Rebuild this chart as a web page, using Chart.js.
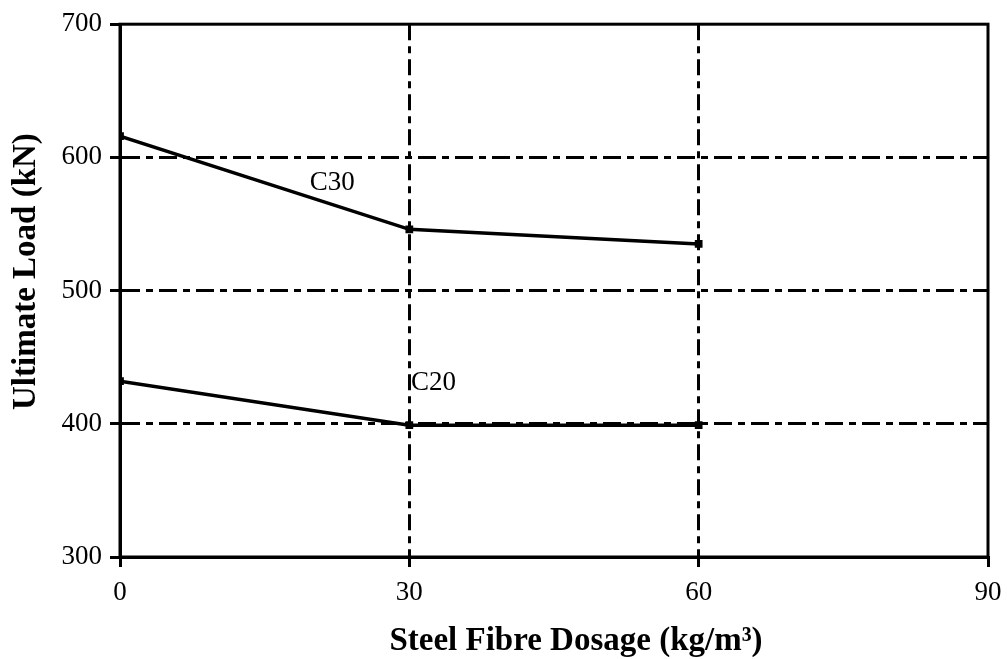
<!DOCTYPE html>
<html>
<head>
<meta charset="utf-8">
<title>Ultimate Load vs Steel Fibre Dosage</title>
<script src="https://cdn.jsdelivr.net/npm/chart.js@4/dist/chart.umd.min.js"></script>
<style>
  html, body { margin: 0; padding: 0; background: #ffffff; }
  #wrap { width: 1007px; height: 659px; }
</style>
</head>
<body>
<div id="wrap"><canvas id="chart" width="1007" height="659"></canvas></div>
<script>
// Fibre dosage (kg/m³) and the ultimate load (kN) for each concrete grade
const dosages = [0, 30, 60];
const loadC30 = [616, 546, 535];
const loadC20 = [432, 399, 399];
const seriesNames = ['C30', 'C20'];
const xTicks = [0, 30, 60, 90];
const yTicks = [300, 400, 500, 600, 700];

const SERIF = '"Liberation Serif", "Times New Roman", serif';

// Series name tags, anchored in data units next to each curve
const seriesTags = [
  { text: seriesNames[0], x: 22, y: 581 },
  { text: seriesNames[1], x: 32.5, y: 431 }
];

const pairs = (xs, ys) => xs.map((x, i) => ({ x, y: ys[i] }));

const frameAndText = {
  id: 'frameAndText',
  afterDatasetsDraw(chart) {
    const { ctx, chartArea: a, scales } = chart;
    ctx.save();
    // solid frame around the plotting area
    ctx.strokeStyle = '#000';
    ctx.lineWidth = 3;
    ctx.setLineDash([]);
    ctx.strokeRect(a.left, a.top, a.right - a.left, a.bottom - a.top);

    // curve tags
    ctx.fillStyle = '#000';
    ctx.font = '27px ' + SERIF;
    ctx.textAlign = 'center';
    ctx.textBaseline = 'middle';
    seriesTags.forEach(t => {
      ctx.fillText(t.text, scales.x.getPixelForValue(t.x), scales.y.getPixelForValue(t.y));
    });

    // axis titles
    ctx.font = 'bold 33px ' + SERIF;
    ctx.textBaseline = 'alphabetic';
    ctx.fillText('Steel Fibre Dosage (kg/m\u00B3)', (a.left + a.right) / 2 + 22, 650);
    ctx.translate(35, (a.top + a.bottom) / 2 - 19);
    ctx.rotate(-Math.PI / 2);
    ctx.fillText('Ultimate Load (kN)', 0, 0);
    ctx.restore();
  }
};

const inner = (min, max) => (c) => {
  const v = c.tick ? c.tick.value : null;
  return (v === min || v === max) ? 'rgba(0,0,0,0)' : '#000';
};

new Chart(document.getElementById('chart'), {
  type: 'line',
  data: {
    datasets: [
      {
        label: seriesNames[0],
        data: pairs(dosages, loadC30),
        borderColor: '#000',
        backgroundColor: '#000',
        borderWidth: 3.5,
        pointStyle: 'rect',
        pointRadius: 3,
        tension: 0
      },
      {
        label: seriesNames[1],
        data: pairs(dosages, loadC20),
        borderColor: '#000',
        backgroundColor: '#000',
        borderWidth: 3.5,
        pointStyle: 'rect',
        pointRadius: 3,
        tension: 0
      }
    ]
  },
  options: {
    responsive: false,
    animation: false,
    layout: { autoPadding: false, padding: { top: 21, right: 19, left: 0, bottom: 0 } },
    plugins: { legend: { display: false }, tooltip: { enabled: false } },
    scales: {
      x: {
        type: 'linear',
        min: xTicks[0],
        max: xTicks[xTicks.length - 1],
        afterBuildTicks: (s) => { s.ticks = xTicks.map(v => ({ value: v })); },
        afterFit: (s) => { s.height = 102; s.paddingLeft = 0; s.paddingRight = 0; },
        ticks: {
          color: '#000',
          font: { family: SERIF, size: 27 },
          padding: 10,
          maxRotation: 0
        },
        grid: {
          color: inner(0, 90),
          lineWidth: 3,
          tickLength: 10,
          tickColor: '#000',
          tickWidth: 3
        },
        border: { display: true, color: '#000', width: 3, dash: [16, 6, 7, 6] }
      },
      y: {
        min: yTicks[0],
        max: yTicks[yTicks.length - 1],
        afterBuildTicks: (s) => { s.ticks = yTicks.map(v => ({ value: v })); },
        afterFit: (s) => { s.width = 120; },
        ticks: {
          color: '#000',
          font: { family: SERIF, size: 27 },
          padding: 8
        },
        grid: {
          color: inner(300, 700),
          lineWidth: 3,
          tickLength: 10,
          tickColor: '#000',
          tickWidth: 3
        },
        border: { display: true, color: '#000', width: 3, dash: [18, 6, 7, 6] }
      }
    }
  },
  plugins: [frameAndText]
});
</script>
</body>
</html>
